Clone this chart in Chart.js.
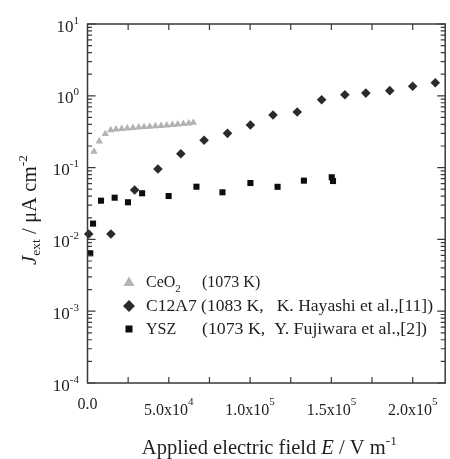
<!DOCTYPE html>
<html>
<head>
<meta charset="utf-8">
<script src="https://cdn.jsdelivr.net/npm/chart.js@4.4.0/dist/chart.umd.min.js"></script>
<style>
  html, body { margin: 0; padding: 0; background: #fff; }
</style>
</head>
<body>
<canvas id="grafica" width="450" height="459"></canvas>
<script>
// CeO2 (1073 K)
const ceo2E = [4000, 7260, 10950, 14280, 17540, 21050, 24490, 28000, 31510, 34770, 38280, 41720, 45230, 48740, 52190, 55510, 58960, 62280, 65110];
const ceo2J = [0.167, 0.232, 0.294, 0.334, 0.341, 0.347, 0.352, 0.358, 0.363, 0.368, 0.373, 0.378, 0.383, 0.389, 0.394, 0.400, 0.406, 0.413, 0.422];

// C12A7 (1083 K, K. Hayashi et al.)
const c12a7E = [740, 14400, 29000, 43300, 57400, 71700, 86100, 100200, 114100, 129000, 144000, 158300, 171200, 185900, 200000, 213900];
const c12a7J = [0.0119, 0.0119, 0.0488, 0.0957, 0.156, 0.24, 0.30, 0.392, 0.54, 0.594, 0.88, 1.035, 1.09, 1.18, 1.36, 1.52];

// YSZ (1073 K, Y. Fujiwara et al.)
const yszE = [1700, 3400, 8300, 16700, 24900, 33600, 49900, 67000, 83000, 100200, 116900, 133100, 150200, 151000];
const yszJ = [0.0064, 0.0166, 0.0346, 0.0381, 0.0329, 0.0439, 0.0402, 0.0542, 0.0453, 0.061, 0.054, 0.0658, 0.0733, 0.065];

// ejes
const xMin = 0, xMax = 220000;
const xTickValues = [0, 50000, 100000, 150000, 200000];
const xTickMantissa = ['0.0', '5.0x10', '1.0x10', '1.5x10', '2.0x10'];
const xTickExponent = ['', '4', '5', '5', '5'];
const xMinorStep = 25000;
const yDecades = [-4, -3, -2, -1, 0, 1];

const legendNames = ['CeO', 'C12A7', 'YSZ'];
const legendRest = ['(1073 K)', '(1083 K,   K. Hayashi et al.,[11])', '(1073 K,  Y. Fujiwara et al.,[2])'];

const SERIF = "'Liberation Serif', 'Times New Roman', 'DejaVu Serif', serif";
const AXIS_COLOR = '#3a3a3a';
const TEXT_COLOR = '#1e1e1e';

function puntos(xs, ys) {
    return xs.map((x, i) => ({ x: x, y: ys[i] }));
}

function fuente(s) {
    return (s.italic ? 'italic ' : '') + s.size + 'px ' + SERIF;
}

// dibuja texto con sub/superindices; devuelve el ancho
function textoRico(ctx, segs, x, y, align, anchoObjetivo) {
    let w = 0;
    segs.forEach(s => { ctx.font = fuente(s); w += ctx.measureText(s.t).width; });
    const sx = anchoObjetivo ? anchoObjetivo / w : 1;
    let x0 = x;
    if (align === 'center') x0 = x - w * sx / 2;
    else if (align === 'right') x0 = x - w * sx;
    ctx.save();
    ctx.translate(x0, y);
    ctx.scale(sx, 1);
    ctx.fillStyle = TEXT_COLOR;
    ctx.textBaseline = 'alphabetic';
    ctx.textAlign = 'left';
    let cx = 0;
    segs.forEach(s => {
        ctx.font = fuente(s);
        ctx.fillText(s.t, cx, s.dy || 0);
        cx += ctx.measureText(s.t).width;
    });
    ctx.restore();
    return w * sx;
}

const marcoPlugin = {
    id: 'marco',
    afterDatasetsDraw(chart) {
        const ctx = chart.ctx;
        const a = chart.chartArea;
        const xs = chart.scales.x;
        const ys = chart.scales.y;

        ctx.save();
        ctx.strokeStyle = AXIS_COLOR;
        ctx.lineWidth = 1.5;
        ctx.strokeRect(a.left, a.top, a.right - a.left, a.bottom - a.top);

        // ticks eje x (hacia dentro, arriba y abajo)
        ctx.lineWidth = 1.2;
        ctx.beginPath();
        for (let v = xMinorStep; v < xMax; v += xMinorStep) {
            const px = xs.getPixelForValue(v);
            ctx.moveTo(px, a.bottom); ctx.lineTo(px, a.bottom - 6);
            ctx.moveTo(px, a.top); ctx.lineTo(px, a.top + 6);
        }
        // ticks eje y (log, mayores y menores)
        yDecades.forEach(d => {
            const py = ys.getPixelForValue(Math.pow(10, d));
            ctx.moveTo(a.left, py); ctx.lineTo(a.left + 8, py);
            ctx.moveTo(a.right, py); ctx.lineTo(a.right - 8, py);
            if (d < 1) {
                for (let m = 2; m <= 9; m++) {
                    const pm = ys.getPixelForValue(m * Math.pow(10, d));
                    ctx.moveTo(a.left, pm); ctx.lineTo(a.left + 4.5, pm);
                    ctx.moveTo(a.right, pm); ctx.lineTo(a.right - 4.5, pm);
                }
            }
        });
        ctx.stroke();
        ctx.restore();

        // etiquetas eje y
        yDecades.forEach(d => {
            const py = ys.getPixelForValue(Math.pow(10, d));
            textoRico(ctx, [
                { t: '10', size: 17 },
                { t: String(d).replace('-', '-'), size: 11, dy: -8 }
            ], 79, py + 7.5, 'right');
        });

        // etiquetas eje x
        xTickValues.forEach((v, i) => {
            const px = xs.getPixelForValue(v);
            if (xTickExponent[i] === '') {
                textoRico(ctx, [{ t: xTickMantissa[i], size: 16 }], px, 409, 'center');
            } else {
                textoRico(ctx, [
                    { t: xTickMantissa[i], size: 16 },
                    { t: xTickExponent[i], size: 11, dy: -10 }
                ], px, 415, 'center');
            }
        });

        // titulo eje x
        textoRico(ctx, [
            { t: 'Applied electric field ', size: 20 },
            { t: 'E', size: 20, italic: true },
            { t: ' / V m', size: 20 },
            { t: '-1', size: 13, dy: -9 }
        ], (a.left + a.right) / 2 + 3, 454, 'center', 255);

        // titulo eje y
        ctx.save();
        ctx.translate(36, 210);
        ctx.rotate(-Math.PI / 2);
        textoRico(ctx, [
            { t: 'J', size: 20, italic: true },
            { t: 'ext', size: 13, dy: 4 },
            { t: ' / \u03BCA cm', size: 20 },
            { t: '-2', size: 13, dy: -9 }
        ], 0, 0, 'center', 110);
        ctx.restore();

        // leyenda
        const lx = 129;
        const filas = [282, 306, 329];
        ctx.save();
        ctx.fillStyle = '#b3b3b3';
        ctx.beginPath();
        ctx.moveTo(lx, filas[0] - 5.5); ctx.lineTo(lx + 5.5, filas[0] + 4); ctx.lineTo(lx - 5.5, filas[0] + 4);
        ctx.closePath(); ctx.fill();
        ctx.fillStyle = '#2b2b2b';
        ctx.beginPath();
        ctx.moveTo(lx, filas[1] - 6); ctx.lineTo(lx + 6, filas[1]); ctx.lineTo(lx, filas[1] + 6); ctx.lineTo(lx - 6, filas[1]);
        ctx.closePath(); ctx.fill();
        ctx.fillStyle = '#0d0d0d';
        ctx.fillRect(lx - 3.5, filas[2] - 3.5, 7, 7);
        ctx.restore();

        textoRico(ctx, [{ t: legendNames[0], size: 16 }, { t: '2', size: 11, dy: 5 }], 146, filas[0] + 5);
        textoRico(ctx, [{ t: legendRest[0], size: 16 }], 202, filas[0] + 5);
        textoRico(ctx, [{ t: legendNames[1] + ' ' + legendRest[1], size: 16 }], 146, filas[1] + 5, 'left', 287);
        textoRico(ctx, [{ t: legendNames[2], size: 16 }], 146, filas[2] + 5);
        textoRico(ctx, [{ t: legendRest[2], size: 16 }], 202, filas[2] + 5, 'left', 225);
    }
};

const ctx = document.getElementById('grafica').getContext('2d');
new Chart(ctx, {
    type: 'scatter',
    data: {
        datasets: [
            {
                label: 'CeO2 (1073 K)',
                data: puntos(ceo2E, ceo2J),
                pointStyle: 'triangle',
                pointRadius: 4.3,
                backgroundColor: '#b3b3b3',
                borderColor: '#b3b3b3',
                borderWidth: 0,
                clip: false
            },
            {
                label: 'C12A7 (1083 K, K. Hayashi et al.,[11])',
                data: puntos(c12a7E, c12a7J),
                pointStyle: 'rectRot',
                pointRadius: 4.8,
                backgroundColor: '#2b2b2b',
                borderColor: '#2b2b2b',
                borderWidth: 0,
                clip: false
            },
            {
                label: 'YSZ (1073 K, Y. Fujiwara et al.,[2])',
                data: puntos(yszE, yszJ),
                pointStyle: 'rect',
                pointRadius: 4.3,
                backgroundColor: '#0d0d0d',
                borderColor: '#0d0d0d',
                borderWidth: 0,
                clip: false
            }
        ]
    },
    options: {
        responsive: false,
        animation: false,
        layout: { padding: { left: 87.5, right: 4, top: 24, bottom: 76 } },
        plugins: {
            legend: { display: false },
            tooltip: { enabled: false }
        },
        scales: {
            x: { type: 'linear', min: xMin, max: xMax, display: false },
            y: { type: 'logarithmic', min: 1e-4, max: 10, display: false }
        }
    },
    plugins: [marcoPlugin]
});
</script>
</body>
</html>
